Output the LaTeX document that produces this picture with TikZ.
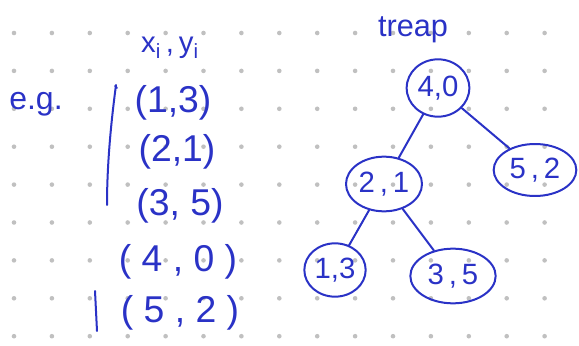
\documentclass[tikz,border=0pt]{standalone}
\usepackage{fontspec}
\setmainfont{Liberation Sans}
\usetikzlibrary{shapes}
\definecolor{ink}{RGB}{42,50,198}
\definecolor{dotgrey}{RGB}{192,192,192}
\tikzstyle{ink}=[draw=ink,line width=1.5pt,line cap=round,line join=round]
\tikzstyle{pair}=[text=ink,font=\fontsize{28}{30}\selectfont,inner sep=0pt]
\tikzstyle{treenode}=[ellipse,ink,text=ink,font=\fontsize{22}{24}\selectfont,inner sep=0pt]
\tikzstyle{note}=[text=ink,inner sep=0pt]

\begin{document}
\begin{tikzpicture}[x=0.75pt,y=-0.75pt]
    \useasboundingbox (0,0) rectangle (579,346);

    % dotted paper
    \foreach \i in {0,...,15}
        \foreach \j in {0,...,8}
            \fill[dotgrey] (14+37.9*\i,33+37.9*\j) circle (2.3);

    % the example points
    \node[note,font=\fontsize{24}{26}\selectfont] (eg) at (36,104) {e.g.};
    \node[note,font=\fontsize{22}{24}\selectfont] (head) at (170,48) {x\textsubscript{i}\,,\,y\textsubscript{i}};
    \foreach \pos/\name/\pair in {{(173,103)/p13/{(1,3)}}, {(177,152)/p21/{(2,1)}}, {(180,206)/p35/{(3, 5)}},
                                  {(178,262)/p40/{( 4 , 0 )}}, {(180,313)/p52/{( 5 , 2 )}}}
        \node[pair] (\name) at \pos {\pair};
    \draw[ink] (115,86) -- (117,88) (116,85) .. controls (110,130) and (107,170) .. (107,205);
    \draw[ink] (95,291) -- (97,331);

    % the treap
    \node[note,font=\fontsize{23}{25}\selectfont] (title) at (413,30) {treap};
    \foreach \pos/\name/\pair/\w/\h in {{(438,88)/n40/{4,0}/47pt/43pt}, {(384,184)/n21/{2\,,\,1}/57pt/41pt},
                                        {(535,170)/n52/{5\,,\,2}/62pt/39pt}, {(335,270)/n13/{1,3}/46pt/40pt},
                                        {(453,276)/n35/{3\,,\,5}/64pt/41pt}}
        \node[treenode,minimum width=\w,minimum height=\h] (\name) at \pos {\pair};

    \foreach \source/\dest in {n40/n21, n40/n52, n21/n13, n21/n35}
        \path[ink] (\source) -- (\dest);

\end{tikzpicture}
\end{document}
